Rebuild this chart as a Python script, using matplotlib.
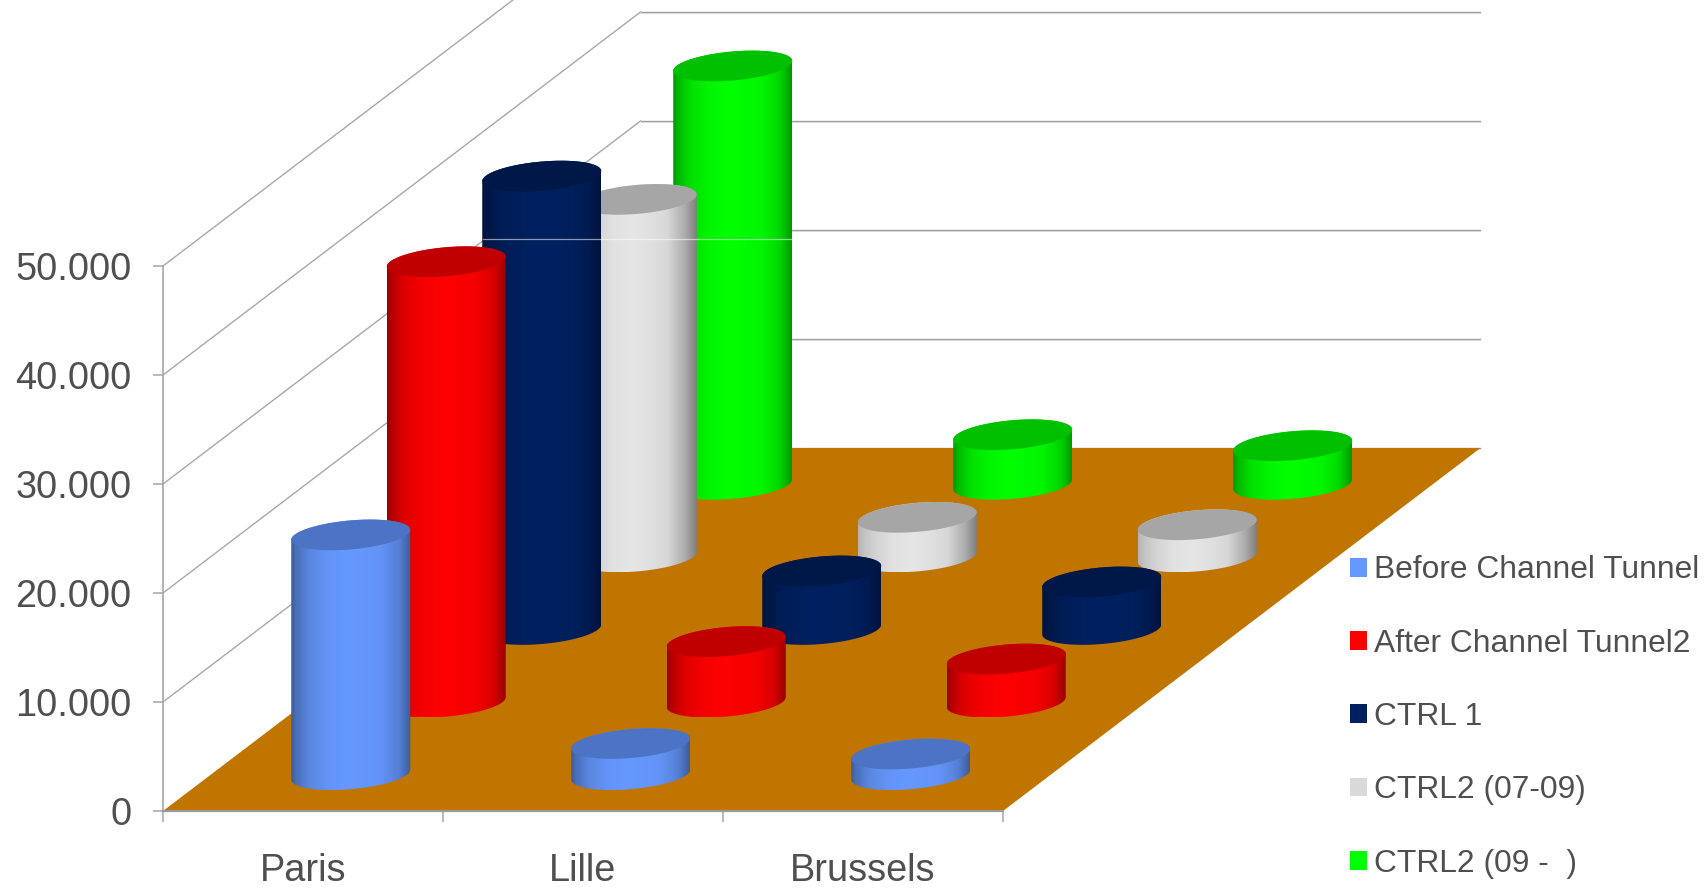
import numpy as np
import matplotlib
matplotlib.use("Agg")
import matplotlib.pyplot as plt
from matplotlib.patches import Polygon, Patch

plt.rcParams['font.family'] = ['Liberation Sans', 'DejaVu Sans']

# ---- data ----
categories = ["Paris", "Lille", "Brussels"]
series_names = ["Before Channel Tunnel", "After Channel Tunnel2", "CTRL 1", "CTRL2 (07-09)", "CTRL2 (09 -  )"]
before_tunnel = [22000, 2860, 1900]
after_tunnel2 = [40400, 5550, 3950]
ctrl_1 = [41600, 5370, 4360]
ctrl2_07_09 = [32800, 3630, 2950]
ctrl2_09 = [38380, 4550, 3540]
y_ticks = [0, 10000, 20000, 30000, 40000, 50000]
y_tick_labels = ["0", "10.000", "20.000", "30.000", "40.000", "50.000"]

# ---- style ----
W, H = 1708, 890
TEXT = "#4f4f4f"
AXIS = "#a6a6a6"
FLOOR = "#c07500"
front = ["#6699ff", "#ff0000", "#002060", "#e6e6e6", "#00ff00"]
legend_cols = ["#6699ff", "#ff0000", "#002060", "#d9d9d9", "#00ff00"]
tops = ["#4c73c4", "#c00000", "#001848", "#a6a6a6", "#00c000"]
stops = [0, .04, .15, .3, .48, .75, .9, 1]
shade = [.6, .72, .88, .96, 1, .96, .84, .6]
shade_grey = [.78, .84, .92, .98, 1, .94, .75, .55]

# axis scale: one category = 280 px, 10000 units = 109 px
PX = 1 / 280
PY = 10000 / 109
X0, Y0 = 163, 811
DX, DY = 95.5 * PX, 72.6 * PY      # oblique shift for one series of depth
A, B, K = 59.5 * PX, 14.5 * PY, 5 * PY  # cylinder ellipse

fig = plt.figure(figsize=(W / 100, H / 100), dpi=100, facecolor="white")
ax = fig.add_axes([0, 0, 1, 1], facecolor="none")
ax.set_autoscale_on(False)
xlim = (-X0 * PX, (W - X0) * PX)
ylim = ((Y0 - H) * PY, Y0 * PY)
ax.set_xlim(xlim)
ax.set_ylim(ylim)

n_s = len(series_names)
n_c = len(categories)
depth_x, depth_y = DX * n_s, DY * n_s

# walls
for v in y_ticks[1:]:
    ax.plot([0, depth_x], [v, v + depth_y], color="#a8a8a8", lw=1.0, zorder=1, clip_on=True)
for v in y_ticks[:-1]:
    ax.plot([depth_x, depth_x + n_c], [v + depth_y - 1.3 * PY] * 2, color="#e4e4e4", lw=1.2, zorder=1)
    ax.plot([depth_x, depth_x + n_c], [v + depth_y] * 2, color="#a0a0a0", lw=1.0, zorder=1.1)

# floor
ax.add_patch(Polygon([(0, 0), (n_c, 0), (n_c + depth_x, depth_y), (depth_x, depth_y)],
                     closed=True, fc=FLOOR, ec="none", zorder=2))

# cylinders, back to front
values = [before_tunnel, after_tunnel2, ctrl_1, ctrl2_07_09, ctrl2_09]


def ell(cx, cy, t):
    return np.column_stack([cx + A * np.cos(t), cy + K * np.cos(t) + B * np.sin(t)])


z = 3
xs = np.linspace(0, 1, 256)
for s in range(n_s - 1, -1, -1):
    base = matplotlib.colors.to_rgb(front[s])
    fac = np.interp(xs, stops, shade_grey if s == 3 else shade)
    strip = (np.array(base)[None, :] * fac[:, None])[None, :, :]
    for c in range(n_c):
        cx = c + .5 + DX * (s + .5)
        cy = DY * (s + .5)
        v = values[s][c]
        front_half = ell(cx, cy, np.linspace(np.pi, 2 * np.pi, 80))
        back_half = ell(cx, cy + v, np.linspace(0, np.pi, 80))
        body = Polygon(np.vstack([front_half, back_half]), closed=True,
                       transform=ax.transData, fc="none", ec="none")
        top_all = max(back_half[:, 1].max(), 0)
        bot_all = front_half[:, 1].min()
        im = ax.imshow(strip, extent=(cx - A, cx + A, bot_all, top_all),
                       aspect="auto", interpolation="bilinear", zorder=z)
        ax.add_patch(body)
        body.set_zorder(z)
        im.set_clip_path(body)
        ax.add_patch(Polygon(ell(cx, cy + v, np.linspace(0, 2 * np.pi, 160)), closed=True,
                             fc=tops[s], ec="none", zorder=z + .5))
        z += 1
ax.set_xlim(xlim)
ax.set_ylim(ylim)

# artefact line across the tall cylinders
ax.plot([(483 - X0) * PX, (793 - X0) * PX], [(Y0 - 239) * PY] * 2, color="white", alpha=.55,
        lw=0.9, zorder=z + 1)

# axes
for sp in ["top", "right"]:
    ax.spines[sp].set_visible(False)
ax.spines["left"].set_position(("data", 0))
ax.spines["bottom"].set_position(("data", 0))
ax.spines["left"].set_bounds(0, y_ticks[-1])
ax.spines["bottom"].set_bounds(0, n_c)
ax.spines["left"].set_color(AXIS)
ax.spines["bottom"].set_color("#9a9a9a")
ax.spines["left"].set_linewidth(1.2)
ax.spines["bottom"].set_linewidth(1.6)
ax.spines["left"].set_zorder(z + 2)
ax.spines["bottom"].set_zorder(z + 2)
ax.set_yticks(y_ticks)
ax.set_yticklabels(y_tick_labels)
ax.set_xticks(range(n_c + 1))
ax.set_xticklabels([""] * (n_c + 1))
ax.set_xticks(np.arange(n_c) + .5, minor=True)
ax.set_xticklabels(categories, minor=True)
ax.tick_params(axis="y", direction="out", length=7.4, width=1.1, color=AXIS, labelcolor=TEXT,
               labelsize=27.3, pad=15.5)
ax.tick_params(axis="x", which="major", direction="out", length=8, width=1.1, color=AXIS)
ax.tick_params(axis="x", which="minor", length=0, labelcolor=TEXT, labelsize=27.3, pad=30)

# legend
handles = [Patch(fc=col, ec="none") for col in legend_cols]
fs = 22.9
em = fs * 100 / 72
ax.legend(handles, series_names, loc="upper left", frameon=False, fontsize=fs, labelcolor=TEXT,
          bbox_to_anchor=(1350 / W, 1 - 555.5 / H), bbox_transform=fig.transFigure,
          borderaxespad=0, borderpad=0, handlelength=17 / em, handleheight=17 / em,
          handletextpad=7 / em, labelspacing=1.36)

fig.savefig("out.png", dpi=100, facecolor="white")
